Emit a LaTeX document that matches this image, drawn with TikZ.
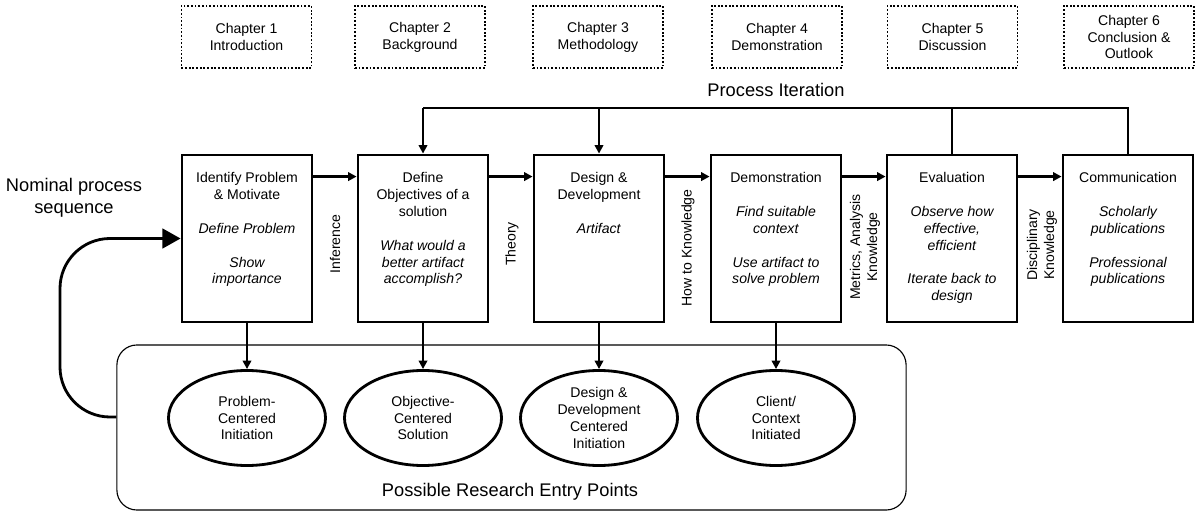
\documentclass[tikz,border=0pt]{standalone}
\usepackage{fontspec}
\setmainfont{Liberation Sans}
\usetikzlibrary{arrows.meta,shapes.geometric}

\newcommand{\stagetext}[1]{\parbox[c][3.3cm][t]{3.1cm}{\centering #1}}

\begin{document}
\begin{tikzpicture}[x=0.025cm,y=-0.025cm,
        font=\fontsize{10}{12}\selectfont,
        chapter/.style={draw,line width=1.3pt,dash pattern=on 1.3pt off 1.3pt,minimum width=3.25cm,minimum height=1.55cm,align=center,inner sep=0pt},
        stage/.style={draw,line width=2pt,minimum width=3.25cm,minimum height=4.175cm,inner sep=0pt},
        entry/.style={draw,ellipse,line width=2pt,minimum width=3.925cm,minimum height=2.375cm,align=center,inner sep=0pt},
        flow/.style={line width=2pt,-{Triangle[length=6pt,width=6pt]}},
        link/.style={rotate=90,align=center},
        big/.style={font=\fontsize{13}{16}\selectfont,align=center}]
        \useasboundingbox (0,0) rectangle (1195,511);
        %% Chapters
        \node[chapter] (c1) at (246.5,37) {Chapter 1\\Introduction};
        \node[chapter] (c2) at (420,37) {Chapter 2\\Background};
        \node[chapter] (c3) at (598,37) {Chapter 3\\Methodology};
        \node[chapter] (c4) at (777,37) {Chapter 4\\Demonstration};
        \node[chapter] (c5) at (952.5,37) {Chapter 5\\Discussion};
        \node[chapter] (c6) at (1129,37) {Chapter 6\\Conclusion \&\\Outlook};
        %% Process steps
        \node[stage] (b1) at (247,238.5) {\stagetext{Identify Problem\\ \& Motivate\\[12pt] \textit{Define Problem}\\[12pt] \textit{Show\\ importance}}};
        \node[stage] (b2) at (423,238.5) {\stagetext{Define\\ Objectives of a\\ solution\\[12pt] \textit{What would a\\ better artifact\\ accomplish?}}};
        \node[stage] (b3) at (599,238.5) {\stagetext{Design \&\\ Development\\[12pt] \textit{Artifact}}};
        \node[stage] (b4) at (776,238.5) {\stagetext{Demonstration\\[12pt] \textit{Find suitable\\ context}\\[12pt] \textit{Use artifact to\\ solve problem}}};
        \node[stage] (b5) at (952,238.5) {\stagetext{Evaluation\\[12pt] \textit{Observe how\\ effective,\\ efficient}\\[12pt] \textit{Iterate back to\\ design}}};
        \node[stage] (b6) at (1128,238.5) {\stagetext{Communication\\[12pt] \textit{Scholarly\\ publications}\\[12pt] \textit{Professional\\ publications}}};
        \foreach \a/\b in {b1/b2,b2/b3,b3/b4,b4/b5,b5/b6}
            \draw[flow] ([yshift=-0.575cm]\a.north east) -- ([yshift=-0.575cm]\b.north west);
        %% Links between steps
        \node[link] (l1) at (335,244) {Inference};
        \node[link] (l2) at (512,244) {Theory};
        \node[link] (l3) at (688,248) {How to Knowledge};
        \node[link] (l4) at (865,247) {Metrics, Analysis\\Knowledge};
        \node[link] (l5) at (1042,245) {Disciplinary\\Knowledge};
        %% Process iteration
        \coordinate (iterL) at (b2.north |- 0,108);
        \coordinate (iterR) at (b6.north |- 0,108);
        \draw[line width=2pt] (b6.north) -- (iterR) -- (iterL);
        \draw[flow] (iterL) -- (b2.north);
        \draw[flow] (b3.north |- iterL) -- (b3.north);
        \draw[line width=2pt] (b5.north) -- (b5.north |- iterL);
        \node[big] (iter) at (776,90) {Process Iteration};
        %% Entry points
        \node[draw,line width=0.8pt,rounded corners=0.5cm,minimum width=19.725cm,minimum height=4.125cm] (zone) at (511.5,427.5) {};
        \node[big] (zonelabel) at (510,492) {Possible Research Entry Points};
        \node[entry] (e1) at (247,418) {Problem-\\Centered\\Initiation};
        \node[entry] (e2) at (423,418) {Objective-\\Centered\\Solution};
        \node[entry] (e3) at (599,418) {Design \&\\Development\\Centered\\Initiation};
        \node[entry] (e4) at (776,418) {Client/\\Context\\Initiated};
        \foreach \i in {1,...,4}
            \draw[flow] (b\i.south) -- (e\i.north);
        %% Nominal sequence
        \node[big] (nominal) at (74,198) {Nominal process\\sequence};
        \draw[line width=2pt,rounded corners=1.25cm,-{Triangle[length=13pt,width=14pt]}] (zone.west |- 0,417) -- (60,417) -- (60,238.5) -- (b1.west);
    \end{tikzpicture}
\end{document}
